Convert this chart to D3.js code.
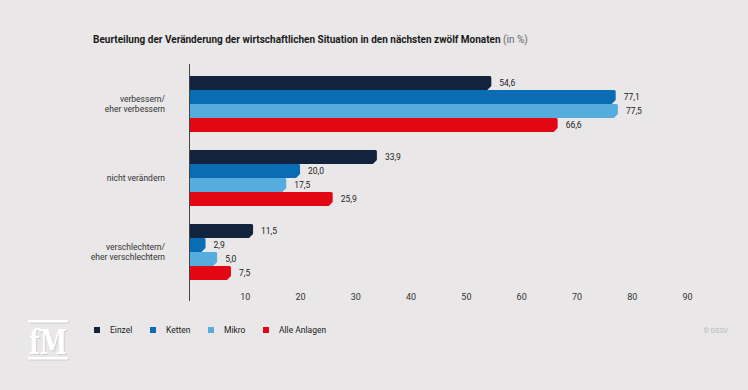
<!DOCTYPE html>
<html>
<head>
<meta charset="utf-8">
<script src="https://cdn.jsdelivr.net/npm/d3@7"></script>
<style>
  body { margin: 0; background: #e9e7e8; }
  svg { display: block; font-family: Roboto, "Liberation Sans", sans-serif; }
</style>
</head>
<body>
<svg id="chart" width="748" height="390"></svg>
<script>
// Data
var categories = ["verbessern/|eher verbessern", "nicht verändern", "verschlechtern/|eher verschlechtern"];
var seriesNames = ["Einzel", "Ketten", "Mikro", "Alle Anlagen"];
var einzel = [54.6, 33.9, 11.5];
var ketten = [77.1, 20.0, 2.9];
var mikro = [77.5, 17.5, 5.0];
var alleAnlagen = [66.6, 25.9, 7.5];
var tickValues = [10, 20, 30, 40, 50, 60, 70, 80, 90];

var seriesValues = [einzel, ketten, mikro, alleAnlagen];
var colors = ["#13223d", "#0a6db3", "#56acdd", "#e30613"];

var svg = d3.select("#chart");

svg.append("rect").attr("width", 748).attr("height", 390).attr("fill", "#e9e7e8");

// Title
var title = svg.append("text")
    .attr("x", 93)
    .attr("y", 43)
    .style("font-size", "10px")
    .attr("fill", "#1a1a1a");
title.append("tspan").style("font-weight", "bold")
    .text("Beurteilung der Veränderung der wirtschaftlichen Situation in den nächsten zwölf Monaten");
title.append("tspan").attr("fill", "#666").text(" (in %)");

// Scales
var x = d3.scaleLinear().domain([0, 90]).range([189.5, 687]);
var y = d3.scaleBand().domain(categories).range([67, 289]).paddingInner(0.243).paddingOuter(0.1216);
var ySub = d3.scaleBand().domain(seriesNames).range([0, y.bandwidth()]);

var fmt = function(v) { return d3.format(".1f")(v).replace(".", ","); };

// bar with a chamfered bottom-right end
function barPath(x0, x1, y0, h) {
    var c = Math.min(4, x1 - x0);
    return "M" + x0 + "," + y0 +
        "L" + (x1 - 1.5) + "," + y0 +
        "Q" + x1 + "," + y0 + " " + x1 + "," + (y0 + 1.5) +
        "L" + x1 + "," + (y0 + h - c) +
        "L" + (x1 - c) + "," + (y0 + h) +
        "L" + x0 + "," + (y0 + h) + "Z";
}

var groups = svg.selectAll(".group")
    .data(categories)
    .enter().append("g")
    .attr("class", "group")
    .attr("transform", function(d) { return "translate(0," + y(d) + ")"; });

seriesNames.forEach(function(name, si) {
    groups.append("path")
        .attr("d", function(d, ci) {
            return barPath(x(0), x(seriesValues[si][ci]), ySub(name), ySub.bandwidth());
        })
        .attr("fill", colors[si]);

    groups.append("text")
        .attr("x", function(d, ci) { return x(seriesValues[si][ci]) + 8; })
        .attr("y", ySub(name) + ySub.bandwidth() / 2)
        .attr("dy", "0.3em")
        .style("font-size", "8.5px")
        .attr("fill", "#222")
        .text(function(d, ci) { return fmt(seriesValues[si][ci]); });
});

// Category labels
groups.each(function(d) {
    var lines = d.split("|");
    var g = d3.select(this);
    var mid = y.bandwidth() / 2;
    lines.forEach(function(line, i) {
        g.append("text")
            .attr("x", 165)
            .attr("y", mid + (i - (lines.length - 1) / 2) * 10.5)
            .attr("dy", "0.35em")
            .attr("text-anchor", "end")
            .style("font-size", "8.5px")
            .attr("fill", "#333")
            .text(line);
    });
});

// Vertical axis line
svg.append("line")
    .attr("x1", x(0)).attr("x2", x(0))
    .attr("y1", 64).attr("y2", 301)
    .attr("stroke", "#444").attr("stroke-width", 1);

// X axis
var xAxis = svg.append("g")
    .attr("transform", "translate(0,294)")
    .call(d3.axisBottom(x).tickValues(tickValues).tickSize(0).tickPadding(0));
xAxis.select(".domain").remove();
xAxis.selectAll("text")
    .style("font-size", "9px")
    .style("font-family", "Roboto, sans-serif")
    .attr("fill", "#333");

// Legend
var legendX = [94, 150, 208, 263];
var legend = svg.selectAll(".legend")
    .data(seriesNames)
    .enter().append("g")
    .attr("class", "legend")
    .attr("transform", function(d, i) { return "translate(" + legendX[i] + ",327)"; });
legend.append("rect")
    .attr("width", 6).attr("height", 6)
    .attr("fill", function(d, i) { return colors[i]; });
legend.append("text")
    .attr("x", 16)
    .attr("y", 3)
    .attr("dy", "0.35em")
    .style("font-size", "8.5px")
    .attr("fill", "#222")
    .text(function(d) { return d; });

// fM logo (white with a soft grey shadow)
function drawLogo(dx, dy, fill) {
    var logo = svg.append("g").attr("transform", "translate(" + (28 + dx) + "," + (320 + dy) + ")");
    logo.append("rect").attr("x", 0).attr("y", 0).attr("width", 40).attr("height", 2.5).attr("fill", fill);
    logo.append("rect").attr("x", 0).attr("y", 37).attr("width", 40).attr("height", 2.5).attr("fill", fill);
    logo.append("text")
        .attr("x", 20).attr("y", 34)
        .attr("text-anchor", "middle")
        .style("font-family", "'DejaVu Serif', serif")
        .style("font-size", "34px")
        .style("font-weight", "bold")
        .attr("textLength", 38)
        .attr("lengthAdjust", "spacingAndGlyphs")
        .attr("fill", fill)
        .text("fM");
}
drawLogo(1, 1, "#cfcdce");
drawLogo(0, 0, "#ffffff");

// Copyright
svg.append("text")
    .attr("x", 728).attr("y", 333)
    .attr("text-anchor", "end")
    .style("font-size", "7px")
    .attr("fill", "#bbb")
    .text("© DSSV");
</script>
</body>
</html>
